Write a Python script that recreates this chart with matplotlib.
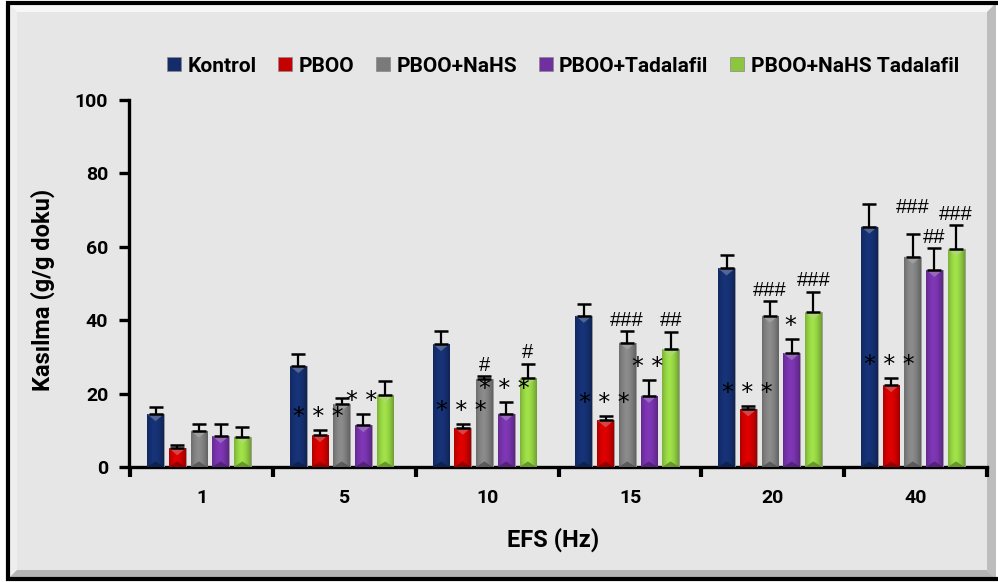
import numpy as np
import matplotlib
matplotlib.use("Agg")
import matplotlib.pyplot as plt
from matplotlib.patches import Rectangle, Polygon, Patch
from matplotlib.colors import to_rgb

# ---- data -------------------------------------------------------------
categories = ["1", "5", "10", "15", "20", "40"]
groups = ["Kontrol", "PBOO", "PBOO+NaHS", "PBOO+Tadalafil", "PBOO+NaHS Tadalafil"]

kontrol = [14.4, 27.5, 33.5, 41.2, 54.1, 65.5]
kontrol_err = [2.0, 3.3, 3.6, 3.1, 3.7, 6.1]
pboo = [5.1, 8.7, 10.7, 12.7, 15.7, 22.3]
pboo_err = [1.0, 1.5, 1.1, 1.3, 0.9, 1.9]
pboo_nahs = [9.9, 17.2, 24.0, 33.9, 41.2, 57.3]
pboo_nahs_err = [1.9, 1.6, 0.7, 3.2, 3.9, 6.2]
pboo_tada = [8.4, 11.4, 14.5, 19.4, 31.0, 53.7]
pboo_tada_err = [3.4, 3.0, 3.2, 4.3, 3.9, 6.0]
pboo_nahs_tada = [8.3, 19.6, 24.2, 32.1, 42.2, 59.4]
pboo_nahs_tada_err = [2.7, 3.7, 4.0, 4.8, 5.6, 6.5]

kontrol_sig = ["", "", "", "", "", ""]
pboo_sig = ["", "***", "***", "***", "***", "***"]
pboo_nahs_sig = ["", "", "#", "###", "###", "###"]
pboo_tada_sig = ["", "**", "***", "**", "*", "##"]
pboo_nahs_tada_sig = ["", "", "#", "##", "###", "###"]

colors = ["#142d6a", "#c40000", "#7a7a7a", "#7030a0", "#8cc63f"]

series = [
    (kontrol, kontrol_err, kontrol_sig),
    (pboo, pboo_err, pboo_sig),
    (pboo_nahs, pboo_nahs_err, pboo_nahs_sig),
    (pboo_tada, pboo_tada_err, pboo_tada_sig),
    (pboo_nahs_tada, pboo_nahs_tada_err, pboo_nahs_tada_sig),
]

FONT = ["Roboto", "DejaVu Sans"]
plt.rcParams["font.family"] = FONT

W, H = 998, 582
fig = plt.figure(figsize=(W / 100, H / 100), dpi=100)
fig.patch.set_facecolor("white")


def fx(x):
    return x / W


def fy(y):
    return 1 - y / H


# ---- bevelled frame ---------------------------------------------------
L, T, R, B = 8, 3, 996, 579
fig.add_artist(Rectangle((fx(L), fy(B)), fx(R - L), (B - T) / H,
                         transform=fig.transFigure, facecolor="#e6e6e6",
                         edgecolor="none", zorder=0))
bw = 9
fig.add_artist(Polygon([(fx(L), fy(T)), (fx(R), fy(T)), (fx(R - bw), fy(T + bw)),
                        (fx(L + bw), fy(T + bw))], closed=True,
                       transform=fig.transFigure, facecolor="#f7f7f7",
                       edgecolor="none", zorder=0.5))
fig.add_artist(Polygon([(fx(L), fy(T)), (fx(L + bw), fy(T + bw)), (fx(L + bw), fy(B - bw)),
                        (fx(L), fy(B))], closed=True,
                       transform=fig.transFigure, facecolor="#eeeeee",
                       edgecolor="none", zorder=0.5))
fig.add_artist(Polygon([(fx(L), fy(B)), (fx(R), fy(B)), (fx(R - bw), fy(B - bw)),
                        (fx(L + bw), fy(B - bw))], closed=True,
                       transform=fig.transFigure, facecolor="#b4b4b4",
                       edgecolor="none", zorder=0.5))
fig.add_artist(Polygon([(fx(R), fy(T)), (fx(R), fy(B)), (fx(R - bw), fy(B - bw)),
                        (fx(R - bw), fy(T + bw))], closed=True,
                       transform=fig.transFigure, facecolor="#bdbdbd",
                       edgecolor="none", zorder=0.5))
fig.add_artist(plt.Line2D([fx(R), fx(L), fx(L), fx(R)], [fy(T), fy(T), fy(B), fy(B)],
                          transform=fig.transFigure, color="black", lw=3,
                          solid_joinstyle="miter", zorder=1))

# ---- axes -------------------------------------------------------------
ax_l, ax_r, ax_t, ax_b = 129, 987, 100, 467
ax = fig.add_axes([fx(ax_l), fy(ax_b), fx(ax_r - ax_l), (ax_b - ax_t) / H])
ax.set_facecolor("none")
ax.set_zorder(2)

n_cat = len(categories)
x = np.arange(n_cat)
pitch = 0.152
width = 0.117
shift = -0.02
px_per_unit = (ax_b - ax_t) / 100.0
tri_h = 7 / px_per_unit


def mix(c, f):
    c = np.array(to_rgb(c))
    if f >= 1:
        return tuple(c + (1 - c) * (f - 1))
    return tuple(c * f)


hash_labels = {}  # category index -> list of [x, y, text]
for i, (vals, errs, sigs) in enumerate(series):
    col = colors[i]
    xs = x + shift + (i - 2) * pitch
    bars = ax.bar(xs, vals, width, color=col, edgecolor="#9a9a9a",
                  linewidth=0.6, zorder=3)
    t = np.linspace(0, 1, 40)
    prof = 1 - 0.5 * (np.abs(t - 0.45) * 2) ** 1.6
    base = np.array(to_rgb(col))
    grad = np.clip(base[None, :] * (0.55 + 0.6 * prof[:, None]), 0, 1)[None, :, :]
    for b, v in zip(bars, vals):
        x0 = b.get_x()
        x1 = x0 + b.get_width()
        xc = (x0 + x1) / 2
        im = ax.imshow(grad, extent=(x0, x1, 0, v), aspect="auto",
                       interpolation="bilinear", zorder=3.1)
        im.set_clip_path(b)
        h = min(tri_h, v / 2)
        ax.add_patch(Polygon([(x0, v), (x1, v), (xc, v - h)], closed=True,
                             facecolor=mix(col, 1.3), edgecolor="none",
                             alpha=0.9, zorder=3.2))
        ax.add_patch(Polygon([(x0, 0), (x1, 0), (xc, h * 0.8)], closed=True,
                             facecolor=mix(col, 0.6), edgecolor="none",
                             alpha=0.7, zorder=3.2))
    ax.errorbar(xs, vals, yerr=[np.zeros(n_cat), errs], fmt="none",
                ecolor="black", elinewidth=1.6, capsize=5, capthick=1.8,
                zorder=4)
    for k, (xi, v, e, s) in enumerate(zip(xs, vals, errs, sigs)):
        if not s:
            continue
        top = v + e
        if s.startswith("*"):
            ax.text(xi - 0.01, top + 1.6, " ".join(s), ha="center",
                    va="baseline", fontsize=17, family=["DejaVu Sans"],
                    color="black", zorder=5)
        else:
            hash_labels.setdefault(k, []).append([xi, top + 2.9, s])

# hash labels: lift a label above its right-hand neighbour when they collide
for k, labs in hash_labels.items():
    for j in range(len(labs) - 2, -1, -1):
        a, b = labs[j], labs[j + 1]
        if abs(a[0] - b[0]) < 0.2 and abs(a[1] - b[1]) < 4:
            a[1] = b[1] + 8
    for xi, yi, s in labs:
        ax.text(xi, yi, s, ha="center", va="center", fontsize=14.5,
                family=["Liberation Sans", "DejaVu Sans"], color="black",
                zorder=5)

ax.set_xlim(-0.51, n_cat - 0.5)
ax.set_ylim(0, 100)
ax.set_yticks([0, 20, 40, 60, 80, 100])
ax.set_xticks(x)
ax.set_xticklabels(categories)
ax.set_xticks(np.arange(n_cat + 1) - 0.5, minor=True)

for s in ["top", "right"]:
    ax.spines[s].set_visible(False)
for s in ["left", "bottom"]:
    ax.spines[s].set_linewidth(2.4)
    ax.spines[s].set_color("black")

ax.tick_params(axis="y", direction="out", length=7, width=2.4, pad=8,
               labelsize=14)
ax.tick_params(axis="x", which="major", length=0, pad=16, labelsize=14)
ax.tick_params(axis="x", which="minor", direction="out", length=7, width=3)
for lab in ax.get_xticklabels() + ax.get_yticklabels():
    lab.set_fontweight("bold")

fig.text(fx(43), fy(290), "Kasılma (g/g doku)", rotation=90, ha="center",
         va="center", fontsize=17, fontweight="bold")
fig.text(fx(553), fy(540), "EFS (Hz)", ha="center", va="center",
         fontsize=17, fontweight="bold")

handles = [Patch(facecolor=c, edgecolor="#888888", linewidth=0.5) for c in colors]
fig.legend(handles, groups, loc="center", bbox_to_anchor=(fx(563), fy(66)),
           ncol=5, frameon=False, handlelength=0.67, handleheight=0.67,
           handletextpad=0.3, columnspacing=1.05,
           prop={"weight": "bold", "size": 15})

fig.savefig("out.png", dpi=100)
